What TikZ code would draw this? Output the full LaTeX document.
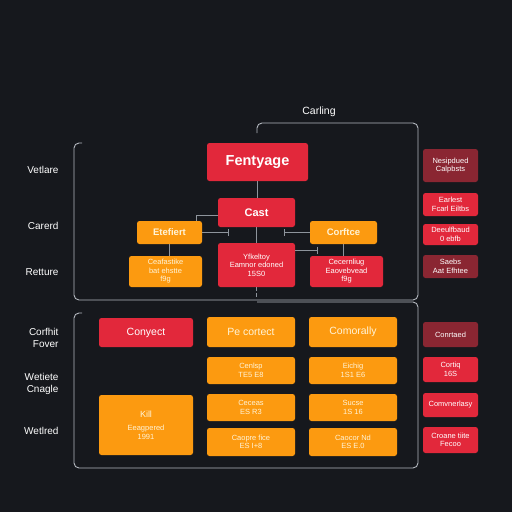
\documentclass[tikz,border=0pt]{standalone}
\usepackage{fontspec}
\setmainfont{Liberation Sans}
\usetikzlibrary{arrows.meta}
\definecolor{bg}{HTML}{16181D}
\definecolor{cred}{HTML}{E2283B}
\definecolor{corg}{HTML}{FC9A10}
\definecolor{cdred}{HTML}{8A2632}
\definecolor{cream}{HTML}{FFF4D8}
\definecolor{frame}{HTML}{B4B8BF}
\definecolor{conn}{HTML}{8E949C}
\tikzset{
  box/.style={rounded corners=2.5pt, inner sep=1pt, align=center, text=white, font=\fontsize{7.5}{8.5}\selectfont},
  redbox/.style={box, fill=cred},
  orgbox/.style={box, fill=corg, text=cream},
  dredbox/.style={box, fill=cdred},
  lbl/.style={anchor=east, align=right, text=white, font=\fontsize{10}{12}\selectfont},
  link/.style={draw=conn, line width=1pt},
  tlink/.style={link, -{Bar[width=7pt,line width=1pt]}},
  framel/.style={draw=frame, line width=0.9pt, rounded corners=5pt}
}
\begin{document}
\begin{tikzpicture}[x=1pt,y=-1pt]
\fill[bg] (0,0) rectangle (512,512);
\useasboundingbox (0,0) rectangle (512,512);

% frames
\draw[framel] (82,143) -- (74,143) -- (74,300) -- (418,300) -- (418,123) -- (257,123) -- (257,133);
\draw[framel] (82,313) -- (74,313) -- (74,468) -- (418,468) -- (418,302) -- (257,302);
\node[text=white, font=\fontsize{10.5}{12}\selectfont] (carl) at (319,112) {Carling};

% left labels
\node[lbl] (l1) at (62,170) {Vetlare};
\node[lbl] (l2) at (62,226) {Carerd};
\node[lbl] (l3) at (62,272) {Retture};
\node[lbl] (l4) at (62,338) {Corfhit\\Fover};
\node[lbl] (l5) at (62,384) {Wetiete\\Cnagle};
\node[lbl] (l6) at (62,431) {Wetlred};

% top section
\node[redbox, minimum width=101pt, minimum height=38pt, font=\bfseries\fontsize{14.5}{16}\selectfont] (fent) at (257.5,162) {Fentyage};
\node[redbox, minimum width=77pt, minimum height=29pt, font=\bfseries\fontsize{11}{13}\selectfont] (cast) at (256.5,212.5) {Cast};
\node[orgbox, minimum width=65pt, minimum height=23pt, font=\bfseries\fontsize{9.5}{11}\selectfont] (etef) at (169.5,232.5) {Etefiert};
\node[orgbox, minimum width=67pt, minimum height=23pt, font=\bfseries\fontsize{9.5}{11}\selectfont] (corf) at (343.5,232.5) {Corftce};
\node[redbox, minimum width=77pt, minimum height=44pt] (cbox) at (256.5,265) {Yfkeltoy\\Eamnor edoned\\15S0};
\node[orgbox, minimum width=73pt, minimum height=31pt] (lbox) at (165.5,271.5) {Ceafastike\\bat ehstte\\f9g};
\node[redbox, minimum width=73pt, minimum height=31pt] (rbox) at (346.5,271.5) {Cecernliug\\Eaovebvead\\f9g};

% top connectors
\draw[link] (fent.south) -- (fent.south |- cast.north);
\coordinate (e1) at (196,221);
\draw[link] ([yshift=-3pt]cast.west) -| (e1);
\coordinate (t1) at (229,232.5);
\draw[tlink] (etef.east) -- (t1);
\coordinate (t2) at (284,232.5);
\draw[tlink] (corf.west) -- (t2);
\draw[link] (cast.south) -- (cast.south |- cbox.north);
\coordinate (t3) at (318,250);
\draw[tlink] ([yshift=15pt]cbox.east) -- (t3);
\draw[link] (etef.south) -- (etef.south |- lbox.north);
\draw[link] (corf.south) -- (corf.south |- rbox.north);
\coordinate (t4) at (256.5,299);
\draw[link, dash pattern=on 4pt off 2pt] (cbox.south) -- (t4);

% right column top
\node[dredbox, minimum width=55pt, minimum height=33pt] (r1) at (450.5,165.5) {Nesipdued\\Calpbsts};
\node[redbox, minimum width=55pt, minimum height=23pt] (r2) at (450.5,204.5) {Earlest\\Fcarl Eiltbs};
\node[redbox, minimum width=55pt, minimum height=21pt] (r3) at (450.5,234.5) {Deeulfbaud\\0 ebfb};
\node[dredbox, minimum width=55pt, minimum height=23pt] (r4) at (450.5,266.5) {Saebs\\Aat Efhtee};

% bottom section
\node[redbox, minimum width=94pt, minimum height=29pt, font=\fontsize{10.5}{12}\selectfont] (cony) at (146,332.5) {Conyect};
\node[orgbox, minimum width=94pt, minimum height=60pt, font=\fontsize{7.5}{9}\selectfont] (kill) at (146,425) {{\fontsize{9}{10}\selectfont Kill}\\[4pt]Eeagpered\\1991};

\node[orgbox, minimum width=88pt, minimum height=30pt, font=\fontsize{10.5}{12}\selectfont] (m1) at (251,332) {Pe cortect};
\node[orgbox, minimum width=88pt, minimum height=27pt] (m2) at (251,370.5) {Cenlsp\\TE5 E8};
\node[orgbox, minimum width=88pt, minimum height=27pt] (m3) at (251,407.5) {Ceceas\\ES R3};
\node[orgbox, minimum width=88pt, minimum height=28pt] (m4) at (251,442) {Caopre fice\\ES I+8};

\node[orgbox, minimum width=88pt, minimum height=30pt, font=\fontsize{10.5}{12}\selectfont] (n1) at (353,332) {Comorally};
\node[orgbox, minimum width=88pt, minimum height=27pt] (n2) at (353,370.5) {Eichig\\1S1 E6};
\node[orgbox, minimum width=88pt, minimum height=27pt] (n3) at (353,407.5) {Sucse\\1S 16};
\node[orgbox, minimum width=88pt, minimum height=28pt] (n4) at (353,442) {Caocor Nd\\ES E.0};

\node[dredbox, minimum width=55pt, minimum height=25pt] (s1) at (450.5,334.5) {Conrtaed};
\node[redbox, minimum width=55pt, minimum height=25pt] (s2) at (450.5,369.5) {Cortiq\\16S};
\node[redbox, minimum width=55pt, minimum height=24pt] (s3) at (450.5,405) {Comvnerlasy};
\node[redbox, minimum width=55pt, minimum height=26pt] (s4) at (450.5,440) {Croane tiite\\Fecoo};
\end{tikzpicture}
\end{document}
